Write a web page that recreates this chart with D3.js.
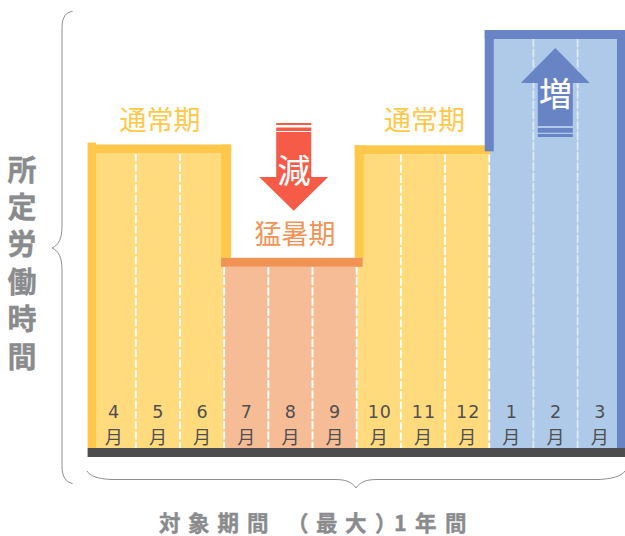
<!DOCTYPE html>
<html lang="ja">
<head>
<meta charset="utf-8">
<script src="https://cdn.jsdelivr.net/npm/d3@7/dist/d3.min.js"></script>
<style>
html,body{margin:0;padding:0;background:#fff}
svg{display:block}
text{font-family:"Noto Sans CJK JP","Noto Sans",sans-serif}
</style>
</head>
<body>
<svg id="chart" width="625" height="536"></svg>
<script>
// Prescribed working hours across the twelve months of a variable-hours year.
const months = ["4","5","6","7","8","9","10","11","12","1","2","3"];
const monthlyHours = [72,72,72,44.3,44.3,44.3,71.8,71.8,71.8,100,100,100];
const periodLabels = ["通常期","猛暑期","通常期"];
const fills = ["#FFDB7E","#FFDB7E","#FFDB7E","#F5BC95","#F5BC95","#F5BC95","#FFDB7E","#FFDB7E","#FFDB7E","#AECAE8","#AECAE8","#AECAE8"];
const yAxisLabel = "所定労働時間";
const xAxisLabel = "対象期間（最大）1年間";

const C = {yellow:"#FFC84A",orange:"#F19355",blue:"#6884C4",red:"#F55B47",ink:"#4D4D4F",grey:"#8A8B8D",month:"#4F4F51"};
const svg = d3.select("#chart");
const x = d3.scaleBand().domain(d3.range(12)).range([91.6,621.8]);
const y = d3.scaleLinear().domain([0,100]).range([448,39]);
const sw = 9;

// Monthly columns
svg.append("g").selectAll("rect").data(monthlyHours).join("rect")
  .attr("x",(d,i)=>x(i)).attr("width",x.bandwidth())
  .attr("y",d=>y(d)).attr("height",d=>y(0)-y(d))
  .attr("fill",(d,i)=>fills[i]);

// Dashed month dividers
svg.append("g").selectAll("line").data(d3.range(1,12)).join("line")
  .attr("x1",i=>x(i)).attr("x2",i=>x(i))
  .attr("y1",i=>y(Math.min(monthlyHours[i],monthlyHours[i-1]))).attr("y2",y(0))
  .attr("stroke",i=>i>=10?"#DCE8F5":"#FFFFFF").attr("stroke-width",1.9)
  .attr("stroke-dasharray","8 2.3");

// Heavy outlines along the top of each period
const bar = (x0,y0,x1,y1,c)=>svg.append("rect")
  .attr("x",Math.min(x0,x1)).attr("y",Math.min(y0,y1))
  .attr("width",Math.abs(x1-x0)).attr("height",Math.abs(y1-y0)).attr("fill",c);
const yN1=y(monthlyHours[0]), yS=y(monthlyHours[3]), yN2=y(monthlyHours[6]), yW=y(monthlyHours[9]);
bar(x(0)-4,yN1-11,x(0)+4.4,y(0),C.yellow);
bar(x(0),yN1-sw,x(3)+7,yN1,C.yellow);
bar(x(3)-3,yN1-sw,x(3)+7,yS-sw,C.yellow);
bar(x(6)-2,yN2-sw,x(6)+7,yS-sw,C.yellow);
bar(x(6)-2,yN2-sw,x(9)+1,yN2,C.yellow);
bar(x(3)-3,yS-sw,x(6)+6,yS,C.orange);
bar(x(9)-4.5,yW-sw,x(9)+4.5,yN2-3,C.blue);
bar(x(9)-4.5,yW-sw,625,yW,C.blue);
bar(x(11)+x.bandwidth()-4.8,yW-sw,625,y(0),C.blue);

// Baseline
bar(x(0)-4,y(0),625,y(0)+9,C.ink);

// Month labels
const ml = svg.append("g").attr("text-anchor","middle").attr("fill",C.month);
ml.selectAll("text.n").data(months).join("text").attr("class","n")
  .attr("x",(d,i)=>x(i)+x.bandwidth()/2+(d.length>1?1:0)).attr("y",418)
  .attr("font-size",17.5).attr("letter-spacing",d=>d.length>1?1:0)
  .style("font-family","DejaVu Sans").text(d=>d);
ml.selectAll("text.m").data(months).join("text").attr("class","m")
  .attr("x",(d,i)=>x(i)+x.bandwidth()/2).attr("y",443.5)
  .attr("font-size",18).text("月");

// Period names
const pl = svg.append("g").attr("text-anchor","middle").attr("font-size",27);
pl.append("text").attr("x",160).attr("y",129.5).attr("fill",C.yellow).text(periodLabels[0]);
pl.append("text").attr("x",295).attr("y",243.5).attr("fill",C.orange).text(periodLabels[1]);
pl.append("text").attr("x",424.5).attr("y",129.5).attr("fill",C.yellow).text(periodLabels[2]);

// Decrease arrow
const arrow = (cx,tip,base,shaftEnd,c)=>svg.append("path").attr("fill",c)
  .attr("d",d3.line()([[cx,tip],[cx+34.5,base],[cx+17.5,base],[cx+17.5,shaftEnd],[cx-17.5,shaftEnd],[cx-17.5,base],[cx-34.5,base]])+"Z");
arrow(293.7,210.7,177,132,C.red);
bar(276.2,127.5,311.2,131,C.red);
bar(276.2,123,311.2,125,C.red);
svg.append("text").attr("x",294).attr("y",183).attr("text-anchor","middle").attr("font-size",33)
  .attr("fill","#fff").attr("stroke","#fff").attr("stroke-width",0.2).text("減");

// Increase arrow
arrow(555.3,48,83,126,C.blue);
bar(537.8,128,572.8,132.7,C.blue);
bar(537.8,134,572.8,137,C.blue);
svg.append("text").attr("x",555.5).attr("y",106).attr("text-anchor","middle").attr("font-size",33)
  .attr("fill","#fff").attr("stroke","#fff").attr("stroke-width",0.2).text("増");

// Braces
const brace = svg.append("g").attr("fill","none").attr("stroke","#8E8E8E").attr("stroke-width",1);
brace.append("path").attr("d","M72.5,11.5C66,12 62,17 62,28V226C62,238 59,245 52,248C59,251 62,258 62,270V466C62,477 66,482 72.5,483.5");
brace.append("path").attr("d","M87,471C90,476 98,479 112,479.5H335C346,479.5 352,482 356,488C360,482 366,479.5 377,479.5H598C612,479 622,476 625,471");

// Axis captions
svg.append("text").attr("x",22).attr("y",155).attr("fill",C.grey).attr("stroke",C.grey).attr("stroke-width",0.4)
  .attr("font-size",29).attr("font-weight",700)
  .style("writing-mode","vertical-rl").attr("letter-spacing",8.4).text(yAxisLabel);
const xCaptionOffsets = [159,188,217.5,247,287,316,345,375,394,415,445];
svg.append("text").attr("x",xCaptionOffsets.join(" ")).attr("y",530.5).attr("fill",C.grey)
  .attr("stroke",C.grey).attr("stroke-width",0.4)
  .attr("font-size",21.5).attr("font-weight",700).text(xAxisLabel);
</script>
</body>
</html>
